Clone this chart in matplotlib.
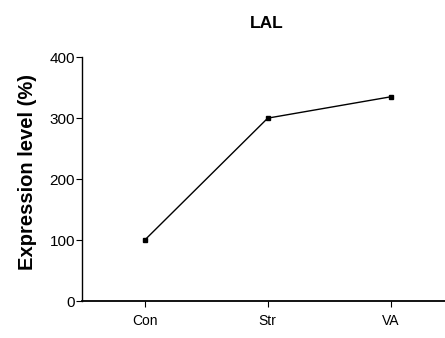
import matplotlib
matplotlib.use("Agg")
import matplotlib.pyplot as plt

groups = ["Con", "Str", "VA"]
expression = [100, 300, 335]

plt.rcParams['font.family'] = ['Liberation Sans', 'DejaVu Sans']

fig = plt.figure(figsize=(4.45, 3.38), dpi=100)
ax = fig.add_axes([0.184, 0.109, 0.816, 0.722])

x = list(range(len(groups)))
ax.plot(x, expression, color='black', linewidth=1.0, marker='s', markersize=3.5)

ax.set_xlim(-0.51, 2.44)
ax.set_ylim(0, 400)
ax.set_xticks(x)
ax.set_xticklabels(groups)
ax.set_yticks([0, 100, 200, 300, 400])

for side in ['top', 'right']:
    ax.spines[side].set_visible(False)
ax.spines['left'].set_linewidth(1.0)
ax.spines['bottom'].set_linewidth(1.3)
ax.tick_params(direction='out', length=4, width=0.8, colors='black')
ax.tick_params(axis='y', pad=1, labelsize=11)
ax.tick_params(axis='x', pad=5, labelsize=10)

# axis title and chart title placed in figure coordinates
fig.text(28 / 445, 1 - 172 / 338, 'Expression level (%)', rotation=90,
         ha='center', va='center', fontsize=14.5, fontweight='bold')
fig.text(266.5 / 445, 1 - 24 / 338, 'LAL', ha='center', va='center',
         fontsize=12.5, fontweight='bold')

fig.savefig('out.png', dpi=100)
